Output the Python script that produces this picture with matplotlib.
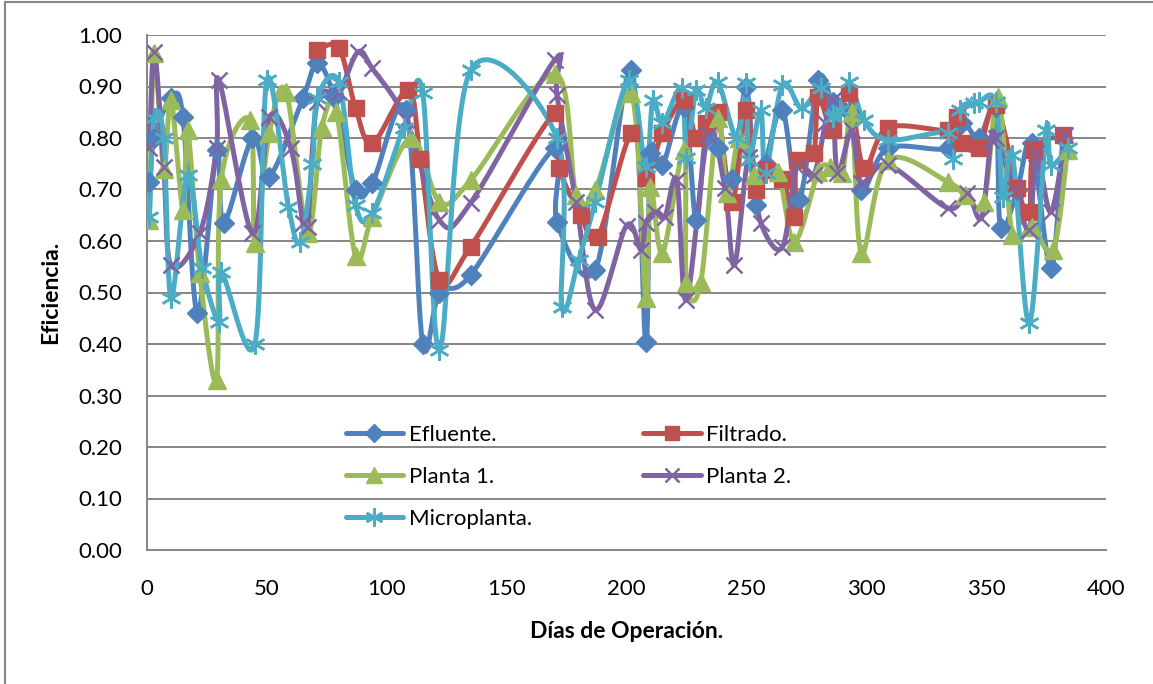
import matplotlib.pyplot as plt
import numpy as np
from matplotlib.lines import Line2D

plt.rcParams['font.family'] = ['Lato', 'DejaVu Sans']

# Efluente.
efl_x = [1, 3, 10, 15, 21, 29, 32, 44, 51, 65, 71, 78, 87, 94, 108, 115, 122, 135,
         170, 171, 187, 202, 208, 210, 215, 224, 229, 233, 238, 244, 250, 254, 258,
         265, 272, 280, 286, 293, 298, 309, 334, 340, 347, 354, 356, 363, 369, 377, 382]
efl_y = [0.715, 0.80, 0.877, 0.84, 0.46, 0.777, 0.635, 0.80, 0.725, 0.877, 0.945, 0.88,
         0.70, 0.713, 0.855, 0.40, 0.50, 0.534, 0.78, 0.637, 0.544, 0.932, 0.404, 0.77,
         0.747, 0.86, 0.64, 0.80, 0.78, 0.72, 0.90, 0.67, 0.75, 0.855, 0.68, 0.913, 0.87,
         0.85, 0.70, 0.78, 0.78, 0.83, 0.80, 0.86, 0.625, 0.70, 0.79, 0.547, 0.80]

# Filtrado.
fil_x = [71, 80, 87, 94, 109, 114, 122, 135, 170, 172, 181, 188, 202, 208, 215, 224,
         229, 233, 238, 244, 250, 254, 258, 265, 270, 271, 278, 280, 286, 293, 299, 309,
         334, 338, 340, 347, 354, 363, 368, 370, 382]
fil_y = [0.97, 0.975, 0.858, 0.79, 0.893, 0.76, 0.524, 0.589, 0.848, 0.742, 0.65, 0.608,
         0.81, 0.722, 0.81, 0.874, 0.80, 0.83, 0.85, 0.676, 0.855, 0.70, 0.738, 0.72,
         0.647, 0.757, 0.77, 0.88, 0.815, 0.887, 0.742, 0.82, 0.815, 0.84, 0.79, 0.78,
         0.864, 0.703, 0.656, 0.777, 0.805]

# Planta 1.
pl1_x = [1, 3, 7, 10, 15, 17, 22, 29, 31, 43, 45, 51, 58, 67, 73, 79, 87, 94, 110, 122,
         135, 170, 179, 187, 202, 208, 210, 215, 224, 225, 231, 238, 242, 247, 253, 263,
         270, 280, 285, 290, 294, 298, 309, 334, 341, 349, 355, 361, 369, 378, 384]
pl1_y = [0.64, 0.965, 0.74, 0.874, 0.66, 0.815, 0.537, 0.33, 0.72, 0.835, 0.596, 0.81,
         0.89, 0.616, 0.822, 0.85, 0.57, 0.647, 0.80, 0.676, 0.718, 0.925, 0.69, 0.70,
         0.887, 0.49, 0.705, 0.577, 0.777, 0.519, 0.52, 0.839, 0.693, 0.80, 0.728, 0.734,
         0.598, 0.734, 0.744, 0.732, 0.85, 0.577, 0.757, 0.715, 0.69, 0.676, 0.88, 0.612,
         0.627, 0.583, 0.777]

# Planta 2.
pl2_x = [1, 3, 7, 10, 22, 29, 30, 44, 51, 60, 65, 67, 71, 80, 88, 94, 108, 122, 135,
         170, 171, 179, 187, 200, 206, 208, 212, 216, 221, 225, 234, 241, 245, 251, 256,
         265, 271, 278, 283, 286, 288, 294, 298, 309, 334, 342, 348, 352, 354, 362, 368,
         371, 377, 383]
pl2_y = [0.78, 0.967, 0.744, 0.553, 0.615, 0.78, 0.913, 0.615, 0.84, 0.78, 0.635, 0.627,
         0.87, 0.89, 0.967, 0.935, 0.835, 0.64, 0.674, 0.951, 0.883, 0.676, 0.466, 0.63,
         0.583, 0.635, 0.656, 0.647, 0.718, 0.485, 0.806, 0.703, 0.553, 0.763, 0.635,
         0.588, 0.744, 0.728, 0.829, 0.874, 0.732, 0.815, 0.713, 0.748, 0.664, 0.693,
         0.645, 0.796, 0.80, 0.70, 0.621, 0.77, 0.656, 0.806]

# Microplanta.
mic_x = [1, 3, 7, 10, 17, 23, 30, 31, 45, 50, 59, 64, 69, 71, 80, 87, 94, 107, 115, 122,
         135, 171, 173, 180, 187, 201, 208, 211, 215, 223, 225, 229, 233, 238, 246, 250,
         251, 256, 258, 265, 273, 281, 286, 289, 293, 299, 309, 334, 336, 339, 345, 347,
         354, 357, 361, 368, 375, 377, 384]
mic_y = [0.647, 0.839, 0.80, 0.49, 0.728, 0.548, 0.443, 0.54, 0.40, 0.913, 0.666, 0.598,
         0.75, 0.877, 0.908, 0.67, 0.654, 0.82, 0.887, 0.388, 0.932, 0.80, 0.472, 0.563,
         0.676, 0.913, 0.744, 0.874, 0.829, 0.897, 0.761, 0.893, 0.858, 0.909, 0.80,
         0.907, 0.757, 0.854, 0.732, 0.903, 0.858, 0.897, 0.84, 0.854, 0.909, 0.835,
         0.796, 0.81, 0.76, 0.854, 0.868, 0.87, 0.87, 0.686, 0.767, 0.44, 0.815, 0.748,
         0.78]

series = [
    ('Efluente.', efl_x, efl_y, '#4F81BD', 'D', 10.5),
    ('Filtrado.', fil_x, fil_y, '#C0504D', 's', 11.5),
    ('Planta 1.', pl1_x, pl1_y, '#9BBB59', '^', 12.5),
    ('Planta 2.', pl2_x, pl2_y, '#8064A2', 'x', 11.5),
    ('Microplanta.', mic_x, mic_y, '#4BACC6', (6, 2, 0), 14.5),
]


def smooth(x, y, n=24):
    # excel-like smoothed line: bezier segments with catmull-rom control points
    pts = np.column_stack([x, y]).astype(float)
    P = np.vstack([pts[0], pts, pts[-1]])
    t = np.linspace(0, 1, n)[:, None]
    segs = []
    for i in range(1, len(P) - 2):
        p0, p1, p2, p3 = P[i - 1], P[i], P[i + 1], P[i + 2]
        c1 = p1 + (p2 - p0) / 6
        c2 = p2 - (p3 - p1) / 6
        segs.append((1 - t) ** 3 * p1 + 3 * (1 - t) ** 2 * t * c1
                    + 3 * (1 - t) * t ** 2 * c2 + t ** 3 * p2)
    return np.vstack(segs)


fig = plt.figure(figsize=(11.53, 6.84), dpi=100)
ax = fig.add_axes([147 / 1153, 1 - 550 / 684, (1106 - 147) / 1153, (550 - 35) / 684])

handles = []
for label, x, y, color, marker, ms in series:
    curve = smooth(x, y)
    ax.plot(curve[:, 0], curve[:, 1], color=color, lw=3.6, solid_capstyle='round',
            solid_joinstyle='round', zorder=3)
    mew = 1.8 if marker in ('x', (6, 2, 0)) else 1
    ax.plot(x, y, ls='none', marker=marker, color=color, ms=ms, mew=mew, zorder=4)
    handles.append(Line2D([], [], color=color, lw=3.6, marker=marker, ms=ms - 1.5, mew=mew,
                          solid_capstyle='round', label=label))

ax.set_xlim(0, 400)
ax.set_ylim(0, 1)
ax.set_xticks(np.arange(0, 401, 50))
ax.set_yticks(np.arange(0, 1.01, 0.1))
ax.set_yticklabels(['%.2f' % v for v in np.arange(0, 1.01, 0.1)])
ax.tick_params(labelsize=16, length=0)
ax.tick_params(axis='y', pad=18)
ax.tick_params(axis='x', pad=21)
ax.yaxis.grid(True, color='#868686', lw=1.4)
ax.set_axisbelow(True)
for side in ('top', 'right'):
    ax.spines[side].set_visible(False)
for side in ('left', 'bottom'):
    ax.spines[side].set_color('#868686')
    ax.spines[side].set_linewidth(1.4)

ax.set_xlabel('Días de Operación.', fontsize=16.5, fontweight='bold', labelpad=16)
ax.set_ylabel('Eficiencia.', fontsize=16.5, fontweight='bold', labelpad=12)

order = [0, 2, 4, 1, 3]
fig.legend([handles[i] for i in order], [handles[i].get_label() for i in order],
           loc='upper left', bbox_to_anchor=(330 / 1153, 1 - 409 / 684), ncol=2,
           frameon=False, fontsize=16, handlelength=2.6, labelspacing=1.0,
           columnspacing=5.0, handletextpad=0.25, borderpad=0.2)

# chart-area border (left and top edges visible in the reference)
fig.add_artist(Line2D([4.5 / 1153, 4.5 / 1153], [0, 1 - 1.5 / 684], transform=fig.transFigure,
                      color='#868686', lw=1.5))
fig.add_artist(Line2D([4.5 / 1153, 1], [1 - 1.5 / 684, 1 - 1.5 / 684], transform=fig.transFigure,
                      color='#868686', lw=1.5))

fig.savefig('out.png', dpi=100)
